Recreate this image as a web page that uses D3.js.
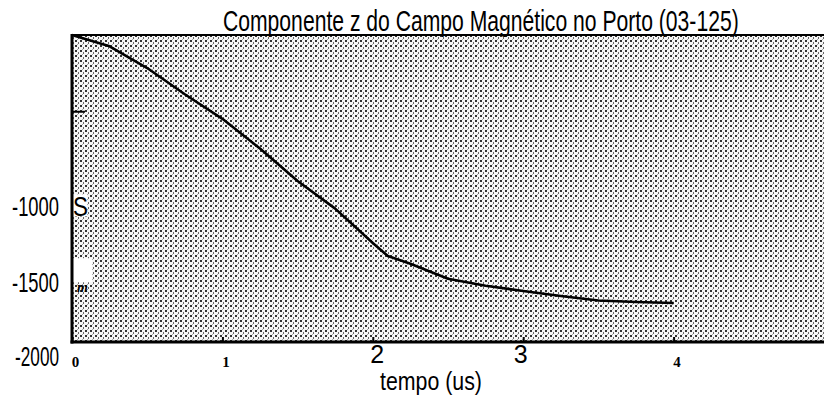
<!DOCTYPE html>
<html>
<head>
<meta charset="utf-8">
<script src="https://cdn.jsdelivr.net/npm/d3@7"></script>
<style>
  body { margin: 0; background: #fff; }
  svg { display: block; }
</style>
</head>
<body>
<div id="chart"></div>
<script>
// data
const tempo = [0, 0.25, 0.5, 0.75, 1, 1.25, 1.5, 1.75, 2, 2.1, 2.25, 2.5, 2.75, 3, 3.25, 3.5, 3.75, 4];
const campoZ = [0, -74, -215, -386, -546, -740, -951, -1131, -1355, -1440, -1490, -1588, -1633, -1668, -1700, -1730, -1739, -1746];
const xTicks = [0, 1, 2, 3, 4];
const xBigTicks = [2, 3];
const yLabelTicks = [-2000, -1500, -1000];
const yMarkTicks = [-500];
const titulo = 'Componente z do Campo Magnético no Porto (03-125)';

const W = 824, H = 399;
const margin = { top: 35, right: 2, bottom: 57, left: 72 };
const sans = '"Liberation Sans", Arial, sans-serif';
const serif = '"Liberation Serif", "Times New Roman", serif';

const svg = d3.select('#chart').append('svg')
  .attr('width', W).attr('height', H);

// squeezed text, like the condensed lettering of the scan: width is forced to `wid`
function squeezed(tx, ty, wid, txt, size, anchor) {
  const t = svg.append('text')
    .attr('text-anchor', anchor || 'start')
    .attr('font-family', sans).attr('font-size', size).attr('fill', '#000')
    .text(txt);
  const len = t.node().getComputedTextLength();
  t.attr('transform', `translate(${tx},${ty}) scale(${wid / len},1)`);
  return t;
}

// stipple pattern like the scanned background
const defs = svg.append('defs');
const pat = defs.append('pattern')
  .attr('id', 'stip').attr('patternUnits', 'userSpaceOnUse')
  .attr('width', 5).attr('height', 5);
pat.append('rect').attr('width', 5).attr('height', 5).attr('fill', '#f6f6f6');
pat.append('rect').attr('x', 0).attr('y', 0).attr('width', 2).attr('height', 2).attr('fill', '#333');
pat.append('rect').attr('x', 3).attr('y', 2).attr('width', 1).attr('height', 2).attr('fill', '#666');
pat.append('rect').attr('x', 2).attr('y', 4).attr('width', 1).attr('height', 1).attr('fill', '#aaa');

const x = d3.scaleLinear().domain([0, 5]).range([margin.left, W - margin.right + 2]);
const y = d3.scaleLinear().domain([-2000, 0]).range([H - margin.bottom, margin.top]);

// plot background
svg.append('rect')
  .attr('x', x(0)).attr('y', y(0))
  .attr('width', x(5) - x(0)).attr('height', y(-2000) - y(0))
  .attr('fill', 'url(#stip)');

// white patches from the scan
svg.append('rect').attr('x', x(0) + 1).attr('y', y(-1500) - 7).attr('width', 19).attr('height', 24).attr('fill', '#fff');
svg.append('rect').attr('x', x(0) + 1).attr('y', y(-1000) + 6).attr('width', 14).attr('height', 22).attr('fill', '#fff');

// curve
const line = d3.line().x((d, i) => x(tempo[i])).y(d => y(d));
svg.append('path')
  .datum(campoZ)
  .attr('d', line)
  .attr('fill', 'none')
  .attr('stroke', '#000')
  .attr('stroke-width', 2.6)
  .attr('stroke-linejoin', 'round');

// top frame
svg.append('line').attr('x1', x(0)).attr('x2', W).attr('y1', y(0)).attr('y2', y(0))
  .attr('stroke', '#000').attr('stroke-width', 2);

// x axis
const xAxis = svg.append('g')
  .attr('transform', `translate(0,${y(-2000)})`)
  .call(d3.axisBottom(x).tickValues(xTicks).tickSize(-5).tickPadding(16).tickFormat(d3.format('d')));
xAxis.select('.domain').remove();
xAxis.selectAll('line').attr('stroke', '#000').attr('stroke-width', 2);
xAxis.selectAll('text')
  .attr('fill', '#000')
  .attr('font-family', d => xBigTicks.includes(d) ? sans : serif)
  .attr('font-weight', d => xBigTicks.includes(d) ? 'normal' : 'bold')
  .attr('font-size', d => xBigTicks.includes(d) ? 25 : 15)
  .attr('dy', d => xBigTicks.includes(d) ? '0.2em' : '0.6em')
  .attr('dx', d => d === 0 ? 3 : (d === 2 ? 4 : (d === 3 ? -3 : 3)));
svg.append('line').attr('x1', x(0) - 1.5).attr('x2', W).attr('y1', y(-2000)).attr('y2', y(-2000))
  .attr('stroke', '#000').attr('stroke-width', 3);

// y axis: tick labels sit a little below their ticks, as in the scan
yLabelTicks.forEach(d => {
  squeezed(x(0) - 13, y(d) + (d === -2000 ? 24 : 27), d === -2000 ? 44 : 47, String(d), 28, 'end');
});
svg.append('line').attr('x1', x(0)).attr('x2', x(0)).attr('y1', y(0) - 1).attr('y2', y(-2000) + 1.5)
  .attr('stroke', '#000').attr('stroke-width', 3);
svg.selectAll('.ymark').data(yMarkTicks).join('line')
  .attr('class', 'ymark')
  .attr('x1', x(0)).attr('x2', x(0) + 13)
  .attr('y1', d => y(d)).attr('y2', d => y(d))
  .attr('stroke', '#000').attr('stroke-width', 2);

// axis labels
squeezed(73, 216, 15, 'S', 28);
svg.append('text').attr('x', 77).attr('y', 292).text('m')
  .attr('font-family', serif).attr('font-style', 'italic').attr('font-weight', 'bold')
  .attr('font-size', 14).attr('fill', '#000');
squeezed(380, 390, 102, 'tempo (us)', 25);

// title
squeezed(223, 31, 516, titulo, 30);
</script>
</body>
</html>
